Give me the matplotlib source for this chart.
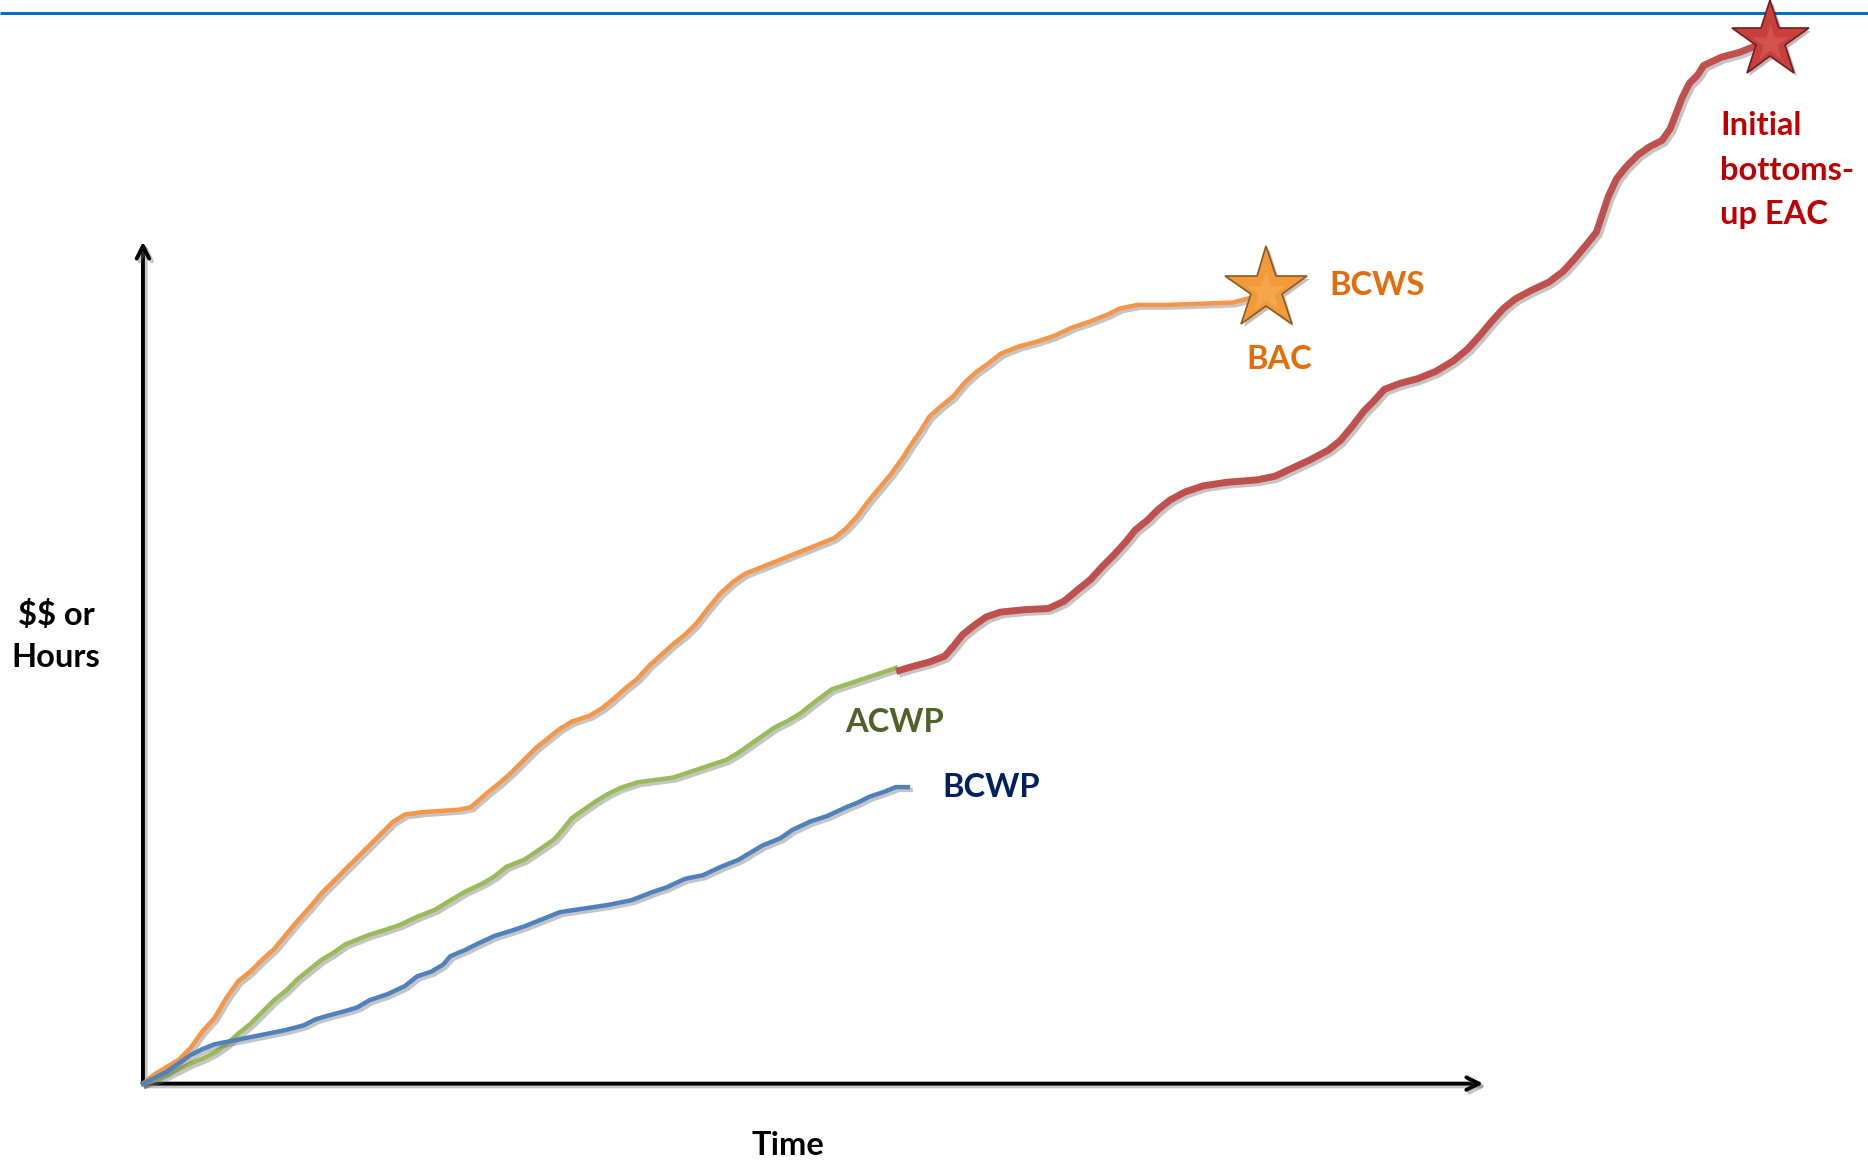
import numpy as np
import matplotlib.pyplot as plt
import matplotlib.patheffects as pe

plt.rcParams['font.family'] = ['Lato', 'DejaVu Sans']

# cumulative curves: time and value in the same arbitrary units
bcws_t = [0, 10, 20, 30, 40, 50, 60, 70, 80, 90, 100, 110, 120, 130, 140, 150, 160, 170, 180,
          190, 200, 210, 220, 235, 250, 265, 275, 282, 290, 300, 310, 320, 330, 340, 350, 360,
          375, 385, 395, 405, 415, 425, 435, 445, 455, 465, 475, 485, 495, 505, 520, 535, 550,
          565, 580, 590, 600, 608, 618, 628, 638, 645, 652, 660, 670, 680, 690, 700, 710, 720,
          735, 750, 765, 780, 795, 810, 820, 835, 860, 890, 915, 930, 943]
bcws_v = [0, 8, 14, 20, 30, 44, 55, 72, 86, 94, 104, 113, 125, 137, 148, 160, 170, 180, 190,
          200, 210, 220, 226, 228, 229, 230, 232, 238, 245, 253, 262, 272, 282, 290, 298, 304,
          309, 315, 323, 332, 340, 351, 360, 369, 377, 387, 400, 412, 421, 428, 434, 440, 446,
          452, 458, 466, 477, 488, 500, 512, 526, 537, 547, 560, 569, 577, 589, 598, 605, 613,
          619, 623, 628, 635, 640, 646, 651, 654, 654, 655, 656, 660, 667]

acwp_t = [0, 10, 20, 30, 40, 50, 60, 70, 80, 90, 100, 110, 120, 130, 140, 150, 160, 170, 180,
          190, 200, 215, 230, 245, 255, 270, 285, 295, 305, 320, 332, 345, 352, 360, 370, 380,
          390, 400, 415, 430, 445, 460, 475, 490, 500, 510, 520, 530, 542, 552, 562, 570, 578,
          590, 605, 620, 632]
acwp_v = [0, 3, 7, 12, 17, 21, 26, 33, 42, 50, 60, 70, 78, 88, 96, 104, 110, 117, 121, 125,
          128, 133, 140, 146, 152, 161, 168, 174, 182, 188, 196, 205, 213, 223, 230, 237, 243,
          248, 253, 255, 257, 262, 267, 272, 278, 285, 292, 299, 305, 311, 319, 325, 331, 335,
          340, 345, 349]

bcwp_t = [0, 10, 20, 30, 40, 50, 60, 75, 90, 105, 120, 135, 145, 155, 170, 180, 190, 205,
          220, 230, 242, 252, 258, 270, 280, 295, 308, 320, 335, 350, 370, 390, 410, 428, 440,
          455, 470, 485, 500, 510, 520, 535, 545, 560, 575, 590, 600, 610, 622, 632, 642]
bcwp_v = [0, 5, 10, 17, 24, 29, 33, 36, 39, 42, 45, 49, 54, 57, 61, 64, 70, 75, 82, 90, 94,
          100, 107, 112, 117, 124, 128, 132, 138, 144, 147, 150, 154, 161, 165, 172, 175, 182,
          188, 194, 200, 206, 213, 220, 225, 232, 236, 241, 245, 249, 249]

eac_t = [635, 645, 660, 673, 680, 688, 698, 708, 720, 740, 760, 773, 785, 795, 805, 815, 825,
         833, 843, 852, 862, 875, 890, 910, 935, 950, 965, 980, 995, 1005, 1015, 1025, 1033,
         1042, 1055, 1070, 1085, 1100, 1112, 1122, 1132, 1142, 1152, 1165, 1180, 1192, 1202,
         1212, 1220, 1225, 1230, 1237, 1245, 1255, 1265, 1275, 1282, 1287, 1292, 1298, 1305,
         1310, 1325, 1340, 1355, 1366]
eac_v = [347, 350, 354, 359, 367, 377, 385, 392, 396, 398, 399, 405, 415, 423, 434, 444, 455,
         465, 473, 482, 490, 497, 502, 505, 507, 510, 517, 524, 532, 540, 552, 565, 573, 583,
         588, 592, 598, 607, 617, 628, 640, 651, 659, 666, 673, 682, 693, 705, 715, 730, 745,
         760, 770, 780, 787, 792, 802, 815, 828, 840, 847, 855, 862, 866, 872, 876]

x_axis_end = 1125
y_axis_end = 707

fig = plt.figure(figsize=(18.68, 11.61), dpi=100)
ax = fig.add_axes([0, 0, 1, 1])
ax.set_xlim(-120, 1448)
ax.set_ylim(-65, 910)
ax.axis('off')

shadow = [pe.SimpleLineShadow(offset=(2, -2), shadow_color='#707070', alpha=0.4), pe.Normal()]

# header rule
ax.plot([-120, 1448], [899, 899], color='#0070C0', lw=2.2, solid_capstyle='butt', zorder=1)

# axes with arrow heads
for end in [(x_axis_end, 0), (0, y_axis_end)]:
    ax.annotate('', xy=end, xytext=(0, 0),
                arrowprops=dict(arrowstyle='->, head_length=0.9, head_width=0.45',
                                lw=2.8, color='black', shrinkA=0, shrinkB=0,
                                path_effects=shadow))

ax.plot(bcws_t, bcws_v, color='#F79646', lw=3.2, path_effects=shadow, zorder=3)
ax.plot(acwp_t, acwp_v, color='#9BBB59', lw=3.2, path_effects=shadow, zorder=3)
ax.plot(bcwp_t, bcwp_v, color='#4F81BD', lw=3.2, path_effects=shadow, zorder=3)
ax.plot(eac_t, eac_v, color='#C0504D', lw=5.0, path_effects=shadow, zorder=3)

# stars at the end points
ax.plot(bcws_t[-1], bcws_v[-1], marker='*', ms=62, mfc='#F09A3A', mec='#8A5A22', mew=1.2,
        path_effects=[pe.SimplePatchShadow(offset=(2, -2), alpha=0.3), pe.Normal()], zorder=5)
ax.plot(bcws_t[-1], bcws_v[-1] - 2, marker='*', ms=30, mfc='#F6B155', mec='none', alpha=0.6, zorder=6)
ax.plot(eac_t[-1], eac_v[-1], marker='*', ms=58, mfc='#C8403E', mec='#6E1F1F', mew=1.2,
        path_effects=[pe.SimplePatchShadow(offset=(2, -2), alpha=0.3), pe.Normal()], zorder=5)
ax.plot(eac_t[-1], eac_v[-1] - 2, marker='*', ms=28, mfc='#D8605C', mec='none', alpha=0.6, zorder=6)

lab = dict(fontsize=23.5, fontweight='bold')
ax.text(996, 670, 'BCWS', color='#E46C0A', ha='left', va='center', **lab)
ax.text(954, 608, 'BAC', color='#E46C0A', ha='center', va='center', **lab)
ax.text(631, 303, 'ACWP', color='#4F6228', ha='center', va='center', **lab)
ax.text(671, 249, 'BCWP', color='#002060', ha='left', va='center', **lab)
ax.text(1324, 767, 'Initial\nbottoms-\nup EAC', color='#C00000', ha='left', va='center',
        linespacing=1.65, **lab)
ax.text(-73, 376, '$$ or\nHours', color='black', ha='center', va='center',
        linespacing=1.55, parse_math=False, **lab)
ax.text(541, -52, 'Time', color='black', ha='center', va='center', **lab)

fig.savefig('out.png', dpi=100)
